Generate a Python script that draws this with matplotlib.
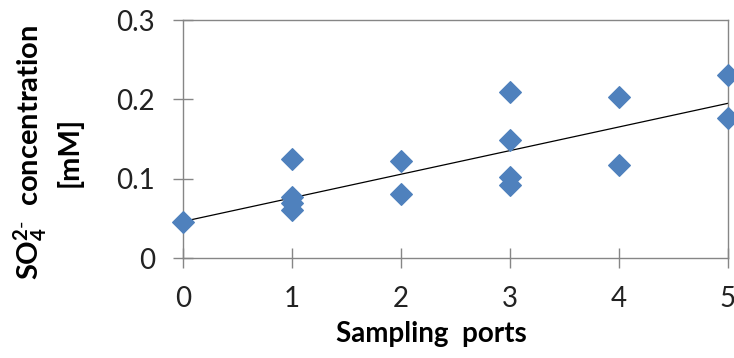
import numpy as np
import matplotlib
matplotlib.use('Agg')
import matplotlib.pyplot as plt

# sampling port index and SO4 2- values [mM]
ports = [0, 1, 1, 1, 1, 2, 2, 3, 3, 3, 3, 4, 4, 5, 5]
so4 = [0.046, 0.125, 0.077, 0.069, 0.060, 0.122, 0.081,
       0.209, 0.149, 0.102, 0.092, 0.203, 0.117, 0.231, 0.177]

# linear trendline as drawn in the chart (value at port 0 and slope)
trend_intercept = 0.046
trend_slope = 0.0298

xticks = [0, 1, 2, 3, 4, 5]
yticks = [0, 0.1, 0.2, 0.3]
ytick_labels = ['0', '0.1', '0.2', '0.3']

plt.rcParams['font.family'] = ['Lato', 'DejaVu Sans']
plt.rcParams['mathtext.fontset'] = 'custom'
plt.rcParams['mathtext.rm'] = 'Lato'
plt.rcParams['mathtext.bf'] = 'Lato:bold'

axis_gray = '#868686'
blue = '#4F81BD'

fig = plt.figure(figsize=(7.34, 3.58), dpi=100)
ax = fig.add_axes([0.2493, 0.2793, 0.7425, 0.6648])

ax.scatter(ports, so4, marker='D', s=11**2, color=blue, zorder=3, clip_on=False)

xs = np.array([0, 5])
ax.plot(xs, trend_intercept + trend_slope * xs, color='black', linewidth=0.9, zorder=2)

ax.set_xlim(0, 5)
ax.set_ylim(0, 0.3)
ax.set_xticks(xticks)
ax.set_yticks(yticks)
ax.set_yticklabels(ytick_labels)

for s in ax.spines.values():
    s.set_color(axis_gray)
    s.set_linewidth(1.0)
ax.tick_params(direction='inout', length=14, width=1.0, color=axis_gray,
               labelsize=20, labelcolor='#222222')
ax.tick_params(axis='x', pad=13)
ax.tick_params(axis='y', pad=13)

ax.set_xlabel('Sampling  ports', fontsize=20, fontweight='bold')
ax.xaxis.set_label_coords(0.455, -0.265)
ax.set_ylabel(r'SO$\mathbf{_4^{2\text{-}}}$  concentration' + '\n[mM]',
              fontsize=21, fontweight='bold', linespacing=1.3)
ax.yaxis.set_label_coords(-0.185, 0.445)

fig.savefig('out.png', dpi=100)
